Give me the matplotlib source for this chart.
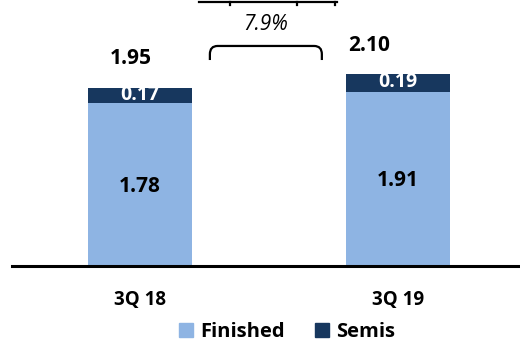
import matplotlib.pyplot as plt
from matplotlib.patches import Patch, PathPatch
from matplotlib.path import Path
import numpy as np

plt.rcParams['font.family'] = ['Open Sans', 'DejaVu Sans']

categories = ['3Q 18', '3Q 19']
finished = [1.78, 1.91]
semis = [0.17, 0.19]
totals = [1.95, 2.10]
growth = '7.9%'

c_fin = '#8EB4E3'
c_semi = '#17375E'

W, H = 520, 343
fig = plt.figure(figsize=(W / 100, H / 100), dpi=100)
ax = fig.add_axes([12 / W, (H - 266) / H, 508 / W, 266 / H])

x = np.arange(len(categories))
width = 0.40
ax.bar(x, finished, width, color=c_fin, label='Finished')
ax.bar(x, semis, width, bottom=finished, color=c_semi, label='Semis')

for i in range(len(categories)):
    ax.text(x[i], finished[i] / 2 - 0.02, f'{finished[i]:.2f}', ha='center', va='center',
            fontsize=15, fontweight='bold', color='black')
    ax.text(x[i], finished[i] + semis[i] / 2 + 0.005, f'{semis[i]:.2f}', ha='center', va='center',
            fontsize=14, fontweight='bold', color='white')

# total labels (slightly left of bar centre as in reference)
ax.text(x[0] - 0.035, totals[0] + 0.32, f'{totals[0]:.2f}', ha='center', va='center',
        fontsize=15, fontweight='bold')
ax.text(x[1] - 0.11, totals[1] + 0.32, f'{totals[1]:.2f}', ha='center', va='center',
        fontsize=15, fontweight='bold')

# growth bracket
x0, x1 = 0.271, 0.705
yb, yt = 2.256, 2.41
r = 0.03
rv = 0.09
verts = [(x0, yb), (x0, yt - rv), (x0, yt), (x0 + r, yt),
         (x1 - r, yt), (x1, yt), (x1, yt - rv), (x1, yb)]
codes = [Path.MOVETO, Path.LINETO, Path.CURVE3, Path.CURVE3,
         Path.LINETO, Path.CURVE3, Path.CURVE3, Path.LINETO]
ax.add_patch(PathPatch(Path(verts, codes), fill=False, lw=1.6, color='black'))
ax.text((x0 + x1) / 2, 2.65, growth, ha='center', va='center', fontsize=15,
        style='italic')

ax.set_xlim(-0.496, 1.473)
ax.set_ylim(0, 266 / 91.3)
for s in ['top', 'left', 'right']:
    ax.spines[s].set_visible(False)
ax.spines['bottom'].set_linewidth(2.2)
ax.set_yticks([])
ax.set_xticks(x)
ax.set_xticklabels(categories, fontsize=13.5, fontweight='bold')
ax.tick_params(axis='x', length=0, pad=17)

# cut-off line at top edge
fig.add_artist(plt.Line2D([199 / W, 337 / W], [1 - 2 / H, 1 - 2 / H], color='black', lw=1.6))
for px in [230, 297, 335]:
    fig.add_artist(plt.Line2D([px / W, px / W], [1 - 2 / H, 1 - 5 / H], color='black', lw=1.6))

handles = [Patch(color=c_fin, label='Finished'), Patch(color=c_semi, label='Semis')]
fig.legend(handles=handles, loc='center', bbox_to_anchor=(287 / W, 1 - 332 / H), ncol=2,
           frameon=False, handlelength=0.7, handleheight=0.7, handletextpad=0.35,
           columnspacing=1.5, prop={'weight': 'bold', 'size': 14.5})

fig.savefig('out.png', dpi=100)
